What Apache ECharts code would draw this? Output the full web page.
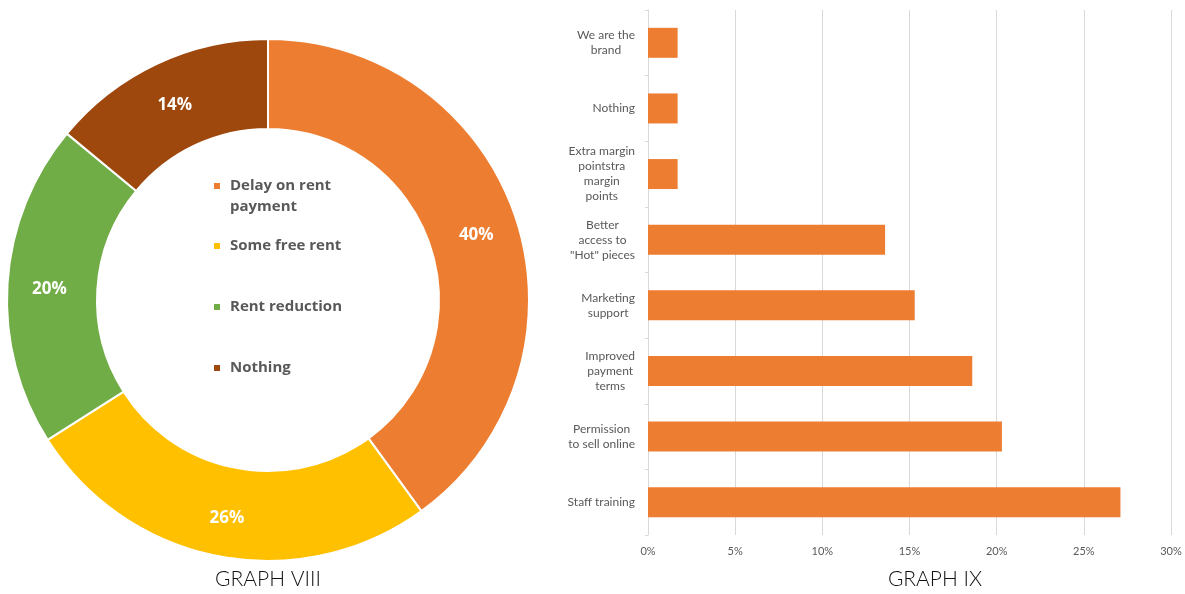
<!DOCTYPE html>
<html>
<head>
<meta charset="utf-8">
<script src="https://cdn.jsdelivr.net/npm/echarts@6/dist/echarts.min.js"></script>
<style>
  html, body { margin: 0; padding: 0; background: #ffffff; }
  #chart { width: 1185px; height: 594px; }
</style>
</head>
<body>
<div id="chart"></div>
<script>
// GRAPH VIII — donut shares
const donutNames = ['Delay on rent payment', 'Some free rent', 'Rent reduction', 'Nothing'];
const donutValues = [40, 26, 20, 14];
const donutColors = ['#ED7D31', '#FFC000', '#70AD47', '#9E480E'];
const donutLegendText = ['Delay on rent\npayment', 'Some free rent', 'Rent reduction', 'Nothing'];

// GRAPH IX — horizontal bars (top to bottom)
const barCategories = [
  'We are the\nbrand',
  'Nothing',
  'Extra margin\npointstra\nmargin\npoints',
  'Better\naccess to\n"Hot" pieces',
  'Marketing\nsupport',
  'Improved\npayment\nterms',
  'Permission\nto sell online',
  'Staff training'
];
const barValues = [1.7, 1.7, 1.7, 13.6, 15.3, 18.6, 20.3, 27.1];
const xTicks = [0, 5, 10, 15, 20, 25, 30];

const chart = echarts.init(document.getElementById('chart'), null, { renderer: 'canvas' });

// legend markers sit at these y-centres inside the donut hole;
// a wrapped entry keeps its marker level with the first line
const legendCentres = [186, 246, 307, 368];
const LH = 21;
const legends = donutNames.map((name, i) => {
  const lines = donutLegendText[i].split('\n');
  const wrapped = lines.length > 1;
  // an empty leading line balances the wrapped second line around the marker
  const text = wrapped ? '{b|}\n' + lines.map(s => '{b|' + s + '}').join('\n') : '{b|' + lines[0] + '}';
  return {
    data: [name],
    orient: 'vertical',
    left: 212,
    top: wrapped ? legendCentres[i] - 1.5 * LH : legendCentres[i] - LH / 2,
    padding: 0,
    itemWidth: 8,
    itemHeight: 8,
    itemGap: 0,
    icon: 'rect',
    selectedMode: false,
    formatter: () => text,
    textStyle: {
      color: '#595959',
      fontFamily: 'Open Sans',
      fontWeight: 'bold',
      fontSize: 15,
      lineHeight: LH,
      rich: {
        b: {
          color: '#595959', fontFamily: 'Open Sans', fontWeight: 'bold',
          fontSize: 15, lineHeight: LH, padding: [0, 0, 0, 4]
        }
      }
    }
  };
});

const option = {
  animation: false,
  backgroundColor: '#ffffff',
  color: donutColors,
  title: [
    {
      text: 'GRAPH VIII', left: 268, top: 569, textAlign: 'center', padding: 0,
      textStyle: { fontFamily: 'Lato', fontWeight: 300, fontSize: 21, color: '#111111' }
    },
    {
      text: 'GRAPH IX', left: 935, top: 569, textAlign: 'center', padding: 0,
      textStyle: { fontFamily: 'Lato', fontWeight: 300, fontSize: 21, color: '#111111' }
    }
  ],
  legend: legends,
  grid: { left: 648, right: 14, top: 10, bottom: 59, containLabel: false },
  xAxis: {
    type: 'value',
    min: 0, max: 30, interval: 5,
    axisLine: { show: false },
    axisTick: { show: false },
    splitLine: { show: true, lineStyle: { color: '#d9d9d9', width: 1 } },
    axisLabel: {
      margin: 11,
      color: '#595959',
      fontFamily: 'Lato',
      fontSize: 11,
      formatter: v => xTicks.indexOf(v) >= 0 ? v + '%' : ''
    }
  },
  yAxis: {
    type: 'category',
    inverse: true,
    data: barCategories,
    axisLine: { show: true, lineStyle: { color: '#d9d9d9', width: 1 } },
    axisTick: { show: true, length: 3, lineStyle: { color: '#d9d9d9' } },
    axisLabel: {
      margin: 13,
      align: 'right',
      color: '#595959',
      fontFamily: 'Lato',
      fontSize: 12,
      lineHeight: 15,
      formatter: v => v.split('\n').map(s => '{c|' + s + '}').join('\n'),
      rich: {
        c: { align: 'center', color: '#595959', fontFamily: 'Lato', fontSize: 12, lineHeight: 15 }
      }
    }
  },
  series: [
    {
      type: 'pie',
      center: [268, 300],
      radius: [171, 261],
      startAngle: 90,
      clockwise: true,
      avoidLabelOverlap: false,
      itemStyle: { borderColor: '#ffffff', borderWidth: 2 },
      label: {
        show: true,
        position: 'inside',
        formatter: '{c}%',
        color: '#ffffff',
        fontFamily: 'Open Sans',
        fontWeight: 'bold',
        fontSize: 17,
        offset: [0, 3]
      },
      labelLine: { show: false },
      emphasis: { disabled: true },
      data: donutNames.map((n, i) => ({ name: n, value: donutValues[i] }))
    },
    {
      type: 'bar',
      data: barValues,
      barWidth: 30,
      itemStyle: { color: '#ED7D31' },
      emphasis: { disabled: true }
    }
  ]
};

chart.setOption(option);
</script>
</body>
</html>
